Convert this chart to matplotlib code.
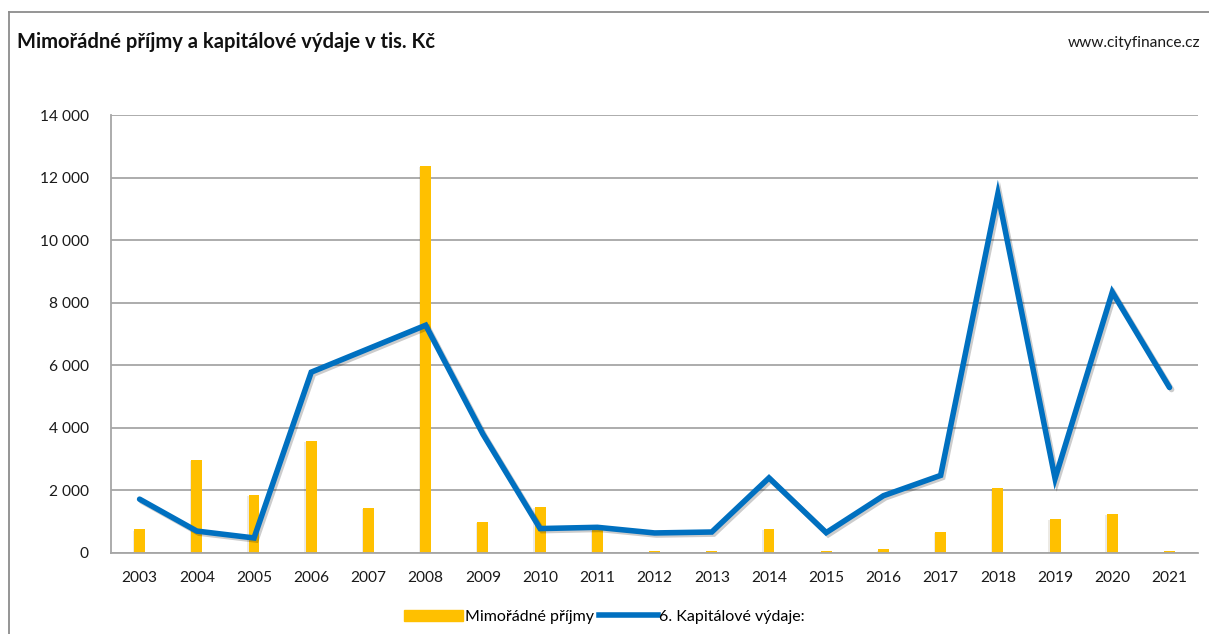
import numpy as np
import matplotlib
matplotlib.use('Agg')
import matplotlib.pyplot as plt
import matplotlib.patheffects as pe
from matplotlib.ticker import FuncFormatter, MultipleLocator
from matplotlib.lines import Line2D

plt.rcParams['font.family'] = ['Lato', 'DejaVu Sans']

years = ['2003', '2004', '2005', '2006', '2007', '2008', '2009', '2010', '2011', '2012',
         '2013', '2014', '2015', '2016', '2017', '2018', '2019', '2020', '2021']
# Mimořádné příjmy (tis. Kč)
mimoradne = [760, 2970, 1850, 3580, 1440, 12370, 990, 1470, 740, 50,
             50, 770, 50, 120, 670, 2080, 1090, 1250, 50]
# 6. Kapitálové výdaje (tis. Kč)
kapitalove = [1720, 700, 480, 5780, 6530, 7280, 3800, 780, 820, 640,
              670, 2400, 650, 1830, 2480, 11480, 2380, 8340, 5290]

bar_color = '#FFC000'
line_color = '#0070C0'
grid_color = '#A6A6A6'

fig = plt.figure(figsize=(12.09, 6.34), dpi=100)
ax = fig.add_axes([0.0918, 0.1278, 0.8992, 0.6908])

x = np.arange(len(years))
bars = ax.bar(x, mimoradne, width=0.19, color=bar_color, zorder=2,
              label='Mimořádné příjmy')
for b in bars:
    b.set_path_effects([pe.SimplePatchShadow(offset=(-1, -1), alpha=0.1), pe.Normal()])

ax.plot(x, kapitalove, color=line_color, linewidth=4, zorder=3,
        solid_joinstyle='miter', solid_capstyle='round',
        path_effects=[pe.SimpleLineShadow(offset=(1.5, -1.5), alpha=0.2, shadow_color='black'),
                      pe.Normal()])

ax.set_xlim(-0.5, len(years) - 0.5)
ax.set_ylim(0, 14000)
ax.yaxis.set_major_locator(MultipleLocator(2000))
ax.yaxis.set_major_formatter(FuncFormatter(lambda v, p: f'{int(v):,}'.replace(',', ' ')))
ax.set_xticks(x)
ax.set_xticklabels(years)
ax.tick_params(axis='both', length=0, labelsize=11.2, colors='#1a1a1a')
ax.tick_params(axis='x', pad=13)
ax.tick_params(axis='y', pad=16)

ax.grid(axis='y', color=grid_color, linewidth=1.3, zorder=0)
ax.set_axisbelow(True)
for s in ['top', 'right']:
    ax.spines[s].set_visible(False)
for s in ['left', 'bottom']:
    ax.spines[s].set_color(grid_color)
    ax.spines[s].set_linewidth(1.3)

# legend
handles = [plt.Rectangle((0, 0), 1, 1, color=bar_color),
           Line2D([0], [0], color=line_color, linewidth=4)]
fig.legend(handles, ['Mimořádné příjmy', '6. Kapitálové výdaje:'],
           loc='center', bbox_to_anchor=(0.5, 0.027), ncol=2, frameon=False,
           fontsize=11.5, handlelength=3.7, handletextpad=0.1, columnspacing=0.3)

# title and source
fig.text(0.014, 0.934, 'Mimořádné příjmy a kapitálové výdaje v tis. Kč',
         fontsize=14.5, fontweight='bold', ha='left', va='center', color='#111111')
fig.text(0.993, 0.932, 'www.cityfinance.cz', fontsize=11.2, ha='right', va='center',
         color='#1a1a1a')

# outer frame lines
fig.add_artist(Line2D([0.0075, 0.0075], [0, 0.981], color='#8c8c8c', linewidth=1.3))
fig.add_artist(Line2D([0.0075, 1.0], [0.981, 0.981], color='#8c8c8c', linewidth=1.3))

fig.savefig('out.png', dpi=100)
